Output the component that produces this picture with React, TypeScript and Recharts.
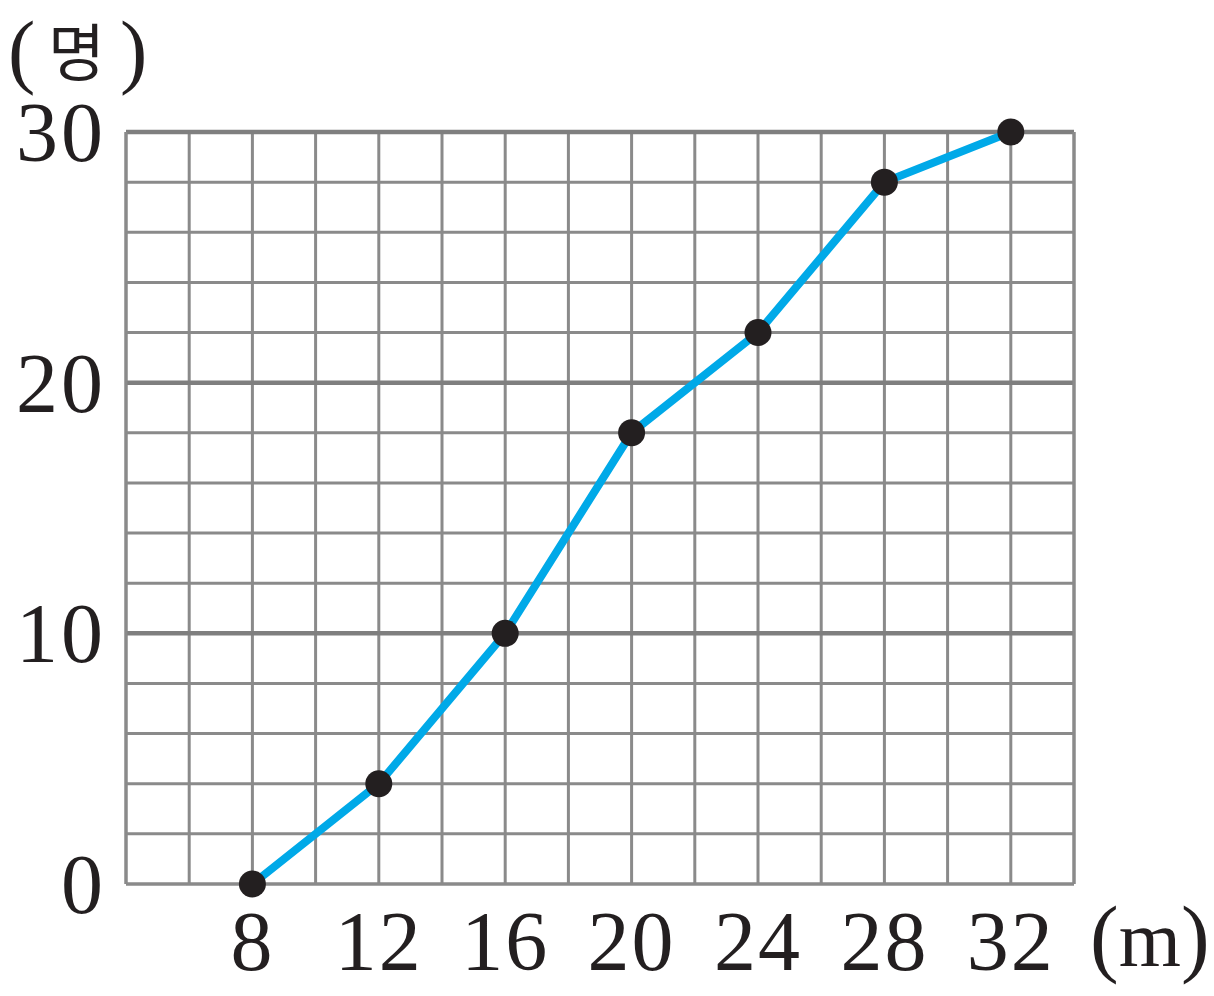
import React from 'react';
import { LineChart, Line, XAxis, YAxis, CartesianGrid, ReferenceLine } from 'recharts';

// distance (m) vs cumulative count (명)
const distances = [8, 12, 16, 20, 24, 28, 32];
const counts = [0, 4, 10, 18, 22, 28, 30];

const xTicks = [4, 6, 8, 10, 12, 14, 16, 18, 20, 22, 24, 26, 28, 30, 32, 34];
const xLabels = [8, 12, 16, 20, 24, 28, 32];
const yTicks = [0, 2, 4, 6, 8, 10, 12, 14, 16, 18, 20, 22, 24, 26, 28, 30];
const yLabels = [0, 10, 20, 30];
const majorY = [10, 20, 30];

const chartData = distances.map((d, i) => ({ x: d, y: counts[i] }));

const FONT = '"Liberation Serif", "DejaVu Serif", serif';
const GRID = '#8a8a8a';

const XTick = (props: any) => {
  const { x, y, payload } = props;
  if (!xLabels.includes(payload.value)) return null;
  return (
    <text x={x} y={y + 86} textAnchor="middle" fontFamily={FONT} fontSize={84} letterSpacing={2} fill="#231f20">
      {payload.value}
    </text>
  );
};

const YTick = (props: any) => {
  const { x, y, payload } = props;
  if (!yLabels.includes(payload.value)) return null;
  return (
    <text x={x} y={y + 29} textAnchor="end" fontFamily={FONT} fontSize={84} letterSpacing={3} fill="#231f20">
      {payload.value}
    </text>
  );
};

export default function App() {
  return (
    <div style={{ position: 'absolute', left: 0, top: 0, width: 1214, height: 996, background: '#fff' }}>
      <LineChart
        width={1214}
        height={996}
        data={chartData}
        margin={{ top: 132, right: 140, left: 1, bottom: 0 }}
      >
        <CartesianGrid stroke={GRID} strokeWidth={3} fill="none" />
        <XAxis
          dataKey="x"
          type="number"
          domain={[4, 34]}
          ticks={xTicks}
          interval={0}
          height={112}
          axisLine={{ stroke: GRID, strokeWidth: 3 }}
          tickLine={false}
          tickSize={0}
          tickMargin={0}
          tick={<XTick />}
        />
        <YAxis
          type="number"
          domain={[0, 30]}
          ticks={yTicks}
          interval={0}
          width={125}
          axisLine={{ stroke: GRID, strokeWidth: 3 }}
          tickLine={false}
          tickSize={0}
          tickMargin={20}
          tick={<YTick />}
        />
        {majorY.map((v) => (
          <ReferenceLine key={v} y={v} stroke="#7f7f7f" strokeWidth={4.5} />
        ))}
        <ReferenceLine x={34} stroke={GRID} strokeWidth={3} />
        <Line
          type="linear"
          dataKey="y"
          stroke="#00a9e8"
          strokeWidth={8}
          dot={{ r: 13.5, fill: '#231f20', stroke: 'none' }}
          activeDot={false}
          isAnimationActive={false}
        />
      </LineChart>
      <svg width={200} height={110} style={{ position: 'absolute', left: 0, top: 0 }}>
        <text x={8} y={78} fontFamily={FONT} fontSize={82} fill="#231f20">(</text>
        <text x={48} y={76} fontFamily='"Noto Sans CJK KR", sans-serif' fontSize={62} fill="#231f20">명</text>
        <text x={120} y={78} fontFamily={FONT} fontSize={82} fill="#231f20">)</text>
      </svg>
      <svg width={124} height={110} style={{ position: 'absolute', left: 1090, top: 886 }}>
        <text x={0} y={80} fontFamily={FONT} fontSize={86} fill="#231f20">
          (<tspan fontSize={80}>m</tspan>)
        </text>
      </svg>
    </div>
  );
}
